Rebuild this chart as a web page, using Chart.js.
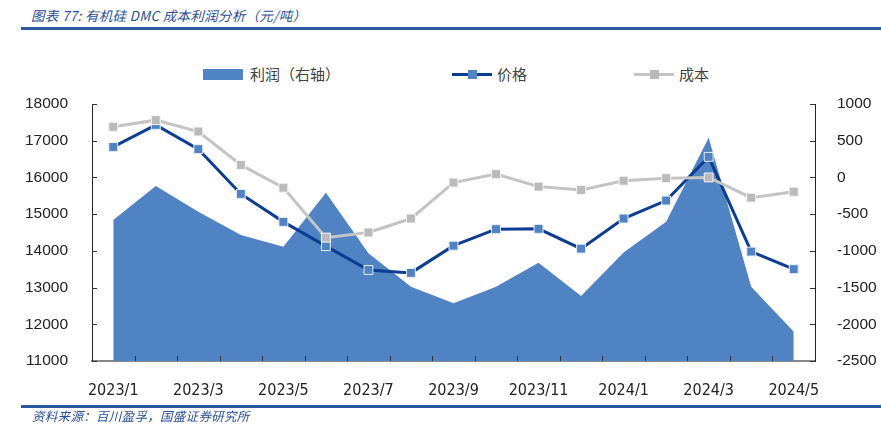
<!DOCTYPE html>
<html>
<head>
<meta charset="utf-8">
<script src="https://cdn.jsdelivr.net/npm/chart.js@4.4.1/dist/chart.umd.min.js"></script>
<style>
  html, body { margin: 0; padding: 0; background: #fff; }
  #wrap { position: relative; width: 881px; height: 435px; overflow: hidden; }
  #chart { position: absolute; left: 0; top: 0; }
  .title { position: absolute; left: 31px; top: 5px; font: italic 13.5px "Noto Sans CJK SC", sans-serif; color: #2a4f97; white-space: nowrap; letter-spacing: 0.3px; }
  .rule { position: absolute; left: 21px; width: 860px; height: 3px; background: #2c5aa0; }
  .source { position: absolute; left: 32px; top: 406px; font: italic 12.5px "Noto Sans CJK SC", sans-serif; color: #2a4f97; white-space: nowrap; letter-spacing: 0.3px; }
  .legend { position: absolute; top: 63px; height: 22px; font: 15px "Noto Sans CJK SC", sans-serif; color: #404040; white-space: nowrap; }
  .legend span { position: absolute; top: 0; line-height: 22px; }
  .box { position: absolute; top: 6px; width: 40px; height: 11px; }
  .ln { position: absolute; top: 10px; width: 40px; height: 3px; }
  .mk { position: absolute; top: 7px; left: 16px; width: 9px; height: 9px; }
</style>
</head>
<body>
<div id="wrap">
  <div class="title">图表 77: 有机硅 DMC 成本利润分析（元/吨）</div>
  <div class="rule" style="top:27px"></div>
  <div id="legend"></div>
  <canvas id="chart" width="881" height="435"></canvas>
  <div class="rule" style="top:405px"></div>
  <div class="source">资料来源：百川盈孚，国盛证券研究所</div>
</div>
<script>
// months 2023/1 .. 2024/5
const months = [
  "2023/1", "2023/2", "2023/3", "2023/4", "2023/5", "2023/6", "2023/7", "2023/8", "2023/9",
  "2023/10", "2023/11", "2023/12", "2024/1", "2024/2", "2024/3", "2024/4", "2024/5",
];
const price = [16830, 17430, 16770, 15550, 14790, 14130, 13480, 13400, 14140, 14590, 14600, 14060, 14880, 15370, 16560, 13980, 13500];
const cost = [17380, 17560, 17250, 16340, 15720, 14360, 14500, 14880, 15860, 16090, 15750, 15660, 15910, 15980, 16000, 15450, 15610];
const profit = [-580, -117, -467, -785, -944, -208, -1034, -1489, -1715, -1489, -1162, -1616, -1021, -603, 541, -1489, -2102];

const leftTicks = [11000, 12000, 13000, 14000, 15000, 16000, 17000, 18000];
const rightTicks = [-2500, -2000, -1500, -1000, -500, 0, 500, 1000];

//colors
const areaColor = "#4f83c4";
const priceColor = "#0c3d92";
const priceMarker = "#4f83c4";
const costColor = "#c4c4c4";
const costMarker = "#bababa";
const textColor = "#222";
const xFont = { family: "'DejaVu Sans Condensed', 'DejaVu Sans', sans-serif", size: 16 };
const yFont = { family: "'Liberation Sans', Arial, sans-serif", size: 15.5 };

// short tick marks pointing into the plot
const innerTicks = {
  id: "innerTicks",
  afterDraw(chart) {
    const { ctx, chartArea } = chart;
    const x = chart.scales.x;
    const yl = chart.scales.y;
    const yr = chart.scales.y1;
    ctx.save();
    ctx.strokeStyle = "#333";
    ctx.lineWidth = 1;
    ctx.beginPath();
    for (let i = 0; i < months.length - 1; i++) {
      const px = Math.round((x.getPixelForValue(i) + x.getPixelForValue(i + 1)) / 2) + 0.5;
      ctx.moveTo(px, chartArea.bottom);
      ctx.lineTo(px, chartArea.bottom - 5);
    }
    yl.ticks.forEach((t) => {
      const py = Math.round(yl.getPixelForValue(t.value)) + 0.5;
      ctx.moveTo(chartArea.left, py);
      ctx.lineTo(chartArea.left + 5, py);
    });
    yr.ticks.forEach((t) => {
      const py = Math.round(yr.getPixelForValue(t.value)) + 0.5;
      ctx.moveTo(chartArea.right, py);
      ctx.lineTo(chartArea.right - 5, py);
    });
    ctx.stroke();
    ctx.restore();
  },
};

const chartData = {
  labels: months,
  datasets: [
    {
      type: "line",
      label: "利润（右轴）",
      data: profit,
      yAxisID: "y1",
      fill: "start",
      backgroundColor: areaColor,
      borderWidth: 0,
      pointRadius: 0,
      tension: 0,
      order: 3,
    },
    {
      type: "line",
      label: "价格",
      data: price,
      yAxisID: "y",
      borderColor: priceColor,
      borderWidth: 3,
      pointStyle: "rect",
      pointRadius: 6.3,
      pointBackgroundColor: priceMarker,
      pointBorderColor: "#e8eef8",
      pointBorderWidth: 1,
      tension: 0,
      order: 2,
    },
    {
      type: "line",
      label: "成本",
      data: cost,
      yAxisID: "y",
      borderColor: costColor,
      borderWidth: 3,
      pointStyle: "rect",
      pointRadius: 6.3,
      pointBackgroundColor: costMarker,
      pointBorderColor: "#f4f4f4",
      pointBorderWidth: 1,
      tension: 0,
      order: 1,
    },
  ],
};

const plainNumber = (v) => String(v);

const options = {
  responsive: false,
  animation: false,
  layout: { padding: { top: 104, left: 0, right: 0, bottom: 0 } },
  plugins: { legend: { display: false }, tooltip: { enabled: false } },
  scales: {
    x: {
      offset: true,
      z: 1,
      grid: { display: false, offset: true },
      border: { color: "#888", width: 2 },
      ticks: {
        autoSkip: false,
        maxRotation: 0,
        color: textColor,
        font: xFont,
        padding: 12,
        callback(_, index) {
          return index % 2 === 0 ? months[index] : null;
        },
      },
      afterFit(scale) { scale.height = 74; },
    },
    y: {
      position: "left",
      min: 11000,
      max: 18000,
      z: 1,
      grid: { display: false },
      border: { color: "#222", width: 1 },
      afterBuildTicks(scale) { scale.ticks = leftTicks.map((v) => ({ value: v })); },
      ticks: { color: textColor, font: yFont, padding: 16, callback: plainNumber },
      afterFit(scale) { scale.width = 92; },
    },
    y1: {
      position: "right",
      min: -2500,
      max: 1000,
      z: 1,
      grid: { display: false },
      border: { color: "#222", width: 1 },
      afterBuildTicks(scale) { scale.ticks = rightTicks.map((v) => ({ value: v })); },
      ticks: { color: textColor, font: yFont, padding: 14, callback: plainNumber },
      afterFit(scale) { scale.width = 66; },
    },
  },
};

// html legend built from the datasets
const legendPos = [
  { left: 203, kind: "box" },
  { left: 452, kind: "line", marker: priceMarker, line: priceColor },
  { left: 634, kind: "line", marker: costMarker, line: costColor },
];
const legendEl = document.getElementById("legend");
chartData.datasets.forEach((ds, i) => {
  const p = legendPos[i];
  const item = document.createElement("div");
  item.className = "legend";
  item.style.left = p.left + "px";
  if (p.kind === "box") {
    item.innerHTML = `<div class="box" style="background:${ds.backgroundColor}"></div><span style="left:47px">${ds.label}</span>`;
  } else {
    item.innerHTML = `<div class="ln" style="background:${p.line}"></div><div class="mk" style="background:${p.marker}"></div><span style="left:45px">${ds.label}</span>`;
  }
  legendEl.appendChild(item);
});

const ctx = document.getElementById("chart").getContext("2d");
new Chart(ctx, {
  data: chartData,
  options,
  plugins: [innerTicks],
});
</script>
</body>
</html>
